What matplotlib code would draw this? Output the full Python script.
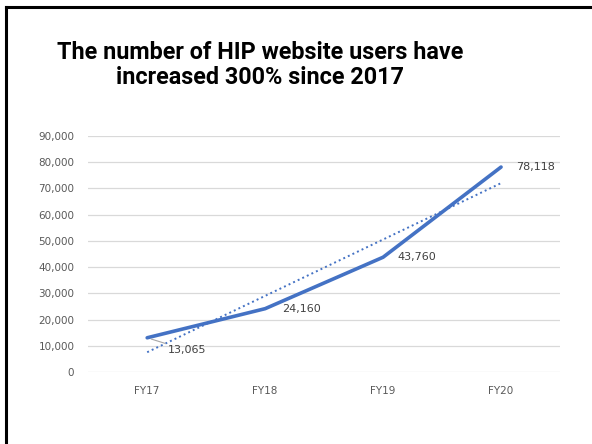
import matplotlib
matplotlib.use("Agg")
import matplotlib.pyplot as plt
from matplotlib.lines import Line2D
from matplotlib.ticker import FuncFormatter
import numpy as np

years = ["FY17", "FY18", "FY19", "FY20"]
users = [13065, 24160, 43760, 78118]
y_ticks = list(range(0, 90001, 10000))

blue = "#4472C4"

fig = plt.figure(figsize=(5.92, 4.44), dpi=100)
ax = fig.add_axes([0.149, 0.162, 0.797, 0.532])

x = np.arange(len(years))
ax.plot(x, users, color=blue, lw=2.6, solid_capstyle="round", zorder=3)

# linear trendline
slope, icpt = np.polyfit(x, users, 1)
ax.plot(x, slope * x + icpt, color=blue, lw=1.4, ls=(0, (1, 1.6)), zorder=2)

# data labels
lbl = dict(fontsize=8, color="#404040", family="DejaVu Sans")
ax.annotate(f"{users[0]:,}", (x[0], users[0]), xytext=(15, -9),
            textcoords="offset points", ha="left", va="center",
            arrowprops=dict(arrowstyle="-", color="#a6a6a6", lw=0.8,
                            shrinkA=0, shrinkB=3), **lbl)
ax.annotate(f"{users[1]:,}", (x[1], users[1]), xytext=(12, 0),
            textcoords="offset points", ha="left", va="center", **lbl)
ax.annotate(f"{users[2]:,}", (x[2], users[2]), xytext=(10, 0),
            textcoords="offset points", ha="left", va="center", **lbl)
ax.annotate(f"{users[3]:,}", (x[3], users[3]), xytext=(11, 0),
            textcoords="offset points", ha="left", va="center", **lbl)

ax.set_xlim(-0.5, len(years) - 0.5)
ax.set_ylim(0, 90000)
ax.set_xticks(x)
ax.set_xticklabels(years)
ax.set_yticks(y_ticks)
ax.yaxis.set_major_formatter(FuncFormatter(lambda v, p: f"{int(v):,}"))
ax.tick_params(length=0, labelsize=7.5, labelcolor="#595959", pad=10)
ax.tick_params(axis="x", pad=10)
ax.grid(axis="y", color="#d9d9d9", lw=0.9)
ax.set_axisbelow(True)
for s in ax.spines.values():
    s.set_visible(False)

fig.text(0.44, 0.853, "The number of HIP website users have\nincreased 300% since 2017",
         ha="center", va="center", fontsize=16.8, fontweight="bold",
         family="Roboto", linespacing=1.12, color="black")

# frame lines on left and top
fig.add_artist(Line2D([0.010, 0.010], [0, 0.984], color="black", lw=2.2))
fig.add_artist(Line2D([0.010, 1.0], [0.984, 0.984], color="black", lw=2.2))

fig.savefig("out.png", dpi=100)
